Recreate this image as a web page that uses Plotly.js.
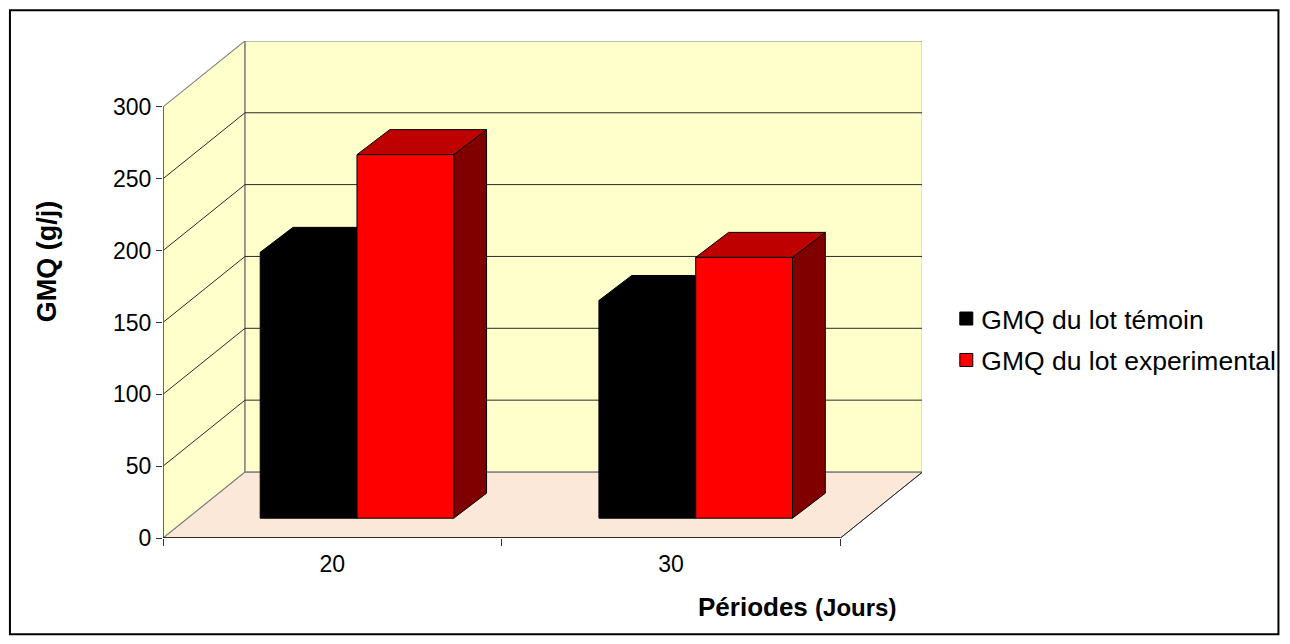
<!DOCTYPE html>
<html><head><meta charset="utf-8">
<script src="https://cdn.plot.ly/plotly-3.0.1.min.js"></script>
<style>html,body{margin:0;padding:0;background:#fff}#chart{width:1290px;height:644px}</style>
</head><body><div id="chart"></div>
<script>
// Data
const categories = ['20', '30'];
const seriesNames = ['GMQ du lot témoin', 'GMQ du lot experimental'];
const temoin = [185, 151.5];
const experimental = [253, 181.5];
const yTicks = [0, 50, 100, 150, 200, 250, 300];

// Oblique-projection set-up (in data units of the axes)
const W = 1290, H = 644;
const L = 163, R = 921.7, T = 40.7, B = 537.7;
const pxPerCat = 338.6, pxPerVal = 1.437;
const dX = 82 / pxPerCat, dY = 66 / pxPerVal;
const nCat = categories.length, yMax = 300;
const barW = 1 / 3.5, barStart = 0.75 / 3.5;
const d0 = 0.3, d1 = 0.7;
const barDepthY = 25 / pxPerVal;

const px = v => (v - L) / (R - L);
const py = v => (B - v) / (B - T);

const traces = [];
function poly(xs, ys, fill, color, width) {
  traces.push({x: xs, y: ys, type: 'scatter', mode: 'lines', fill: 'toself', fillcolor: fill,
    line: {color: color, width: width}, hoverinfo: 'skip', showlegend: false, cliponaxis: false});
}
function line(xs, ys, color, width) {
  traces.push({x: xs, y: ys, type: 'scatter', mode: 'lines', line: {color: color, width: width},
    hoverinfo: 'skip', showlegend: false, cliponaxis: false, connectgaps: false});
}
const X = nCat;
// floor and walls
poly([0, X, X + dX, dX, 0], [0, 0, dY, dY, 0], '#FBE8D9', '#808080', 1);
poly([0, dX, dX, 0, 0], [0, dY, yMax + dY, yMax, 0], '#FFFFCC', '#808080', 1.2);
poly([dX, X + dX, X + dX, dX, dX], [dY, dY, yMax + dY, yMax + dY, dY], '#FFFFCC', '#808080', 1.4);
// grid lines
const gx = [], gy = [];
yTicks.slice(1, -1).forEach(v => {
  gx.push(0, dX, X + dX, null);
  gy.push(v, v + dY, v + dY, null);
});
line(gx, gy, '#2a2a2a', 1);
line([X, X + dX], [0, dY], '#222', 1);
line([0, 0], [0, yMax], '#444', 1.4);
line([0, X], [0, 0], '#000', 1.4);

// 3-D bars
function bar(cat, k, val, front, top, side, edge) {
  const x0 = cat + barStart + k * barW + d0 * dX, x1 = x0 + barW;
  const y0 = d0 * dY, y1 = val + d0 * dY;
  const ox = (d1 - d0) * dX, oy = barDepthY;
  poly([x1, x1 + ox, x1 + ox, x1, x1], [y0, y0 + oy, y1 + oy, y1, y0], side, edge, 1);
  poly([x0, x1, x1 + ox, x0 + ox, x0], [y1, y1, y1 + oy, y1 + oy, y1], top, edge, 1);
  poly([x0, x1, x1, x0, x0], [y0, y0, y1, y1, y0], front, edge, 1);
}
categories.forEach((c, i) => {
  bar(i, 0, temoin[i], '#000000', '#000000', '#000000', '#000000');
  bar(i, 1, experimental[i], '#FF0000', '#BF0000', '#800000', '#000000');
});

// legend entries
[['#000000', 0], ['#FF0000', 1]].forEach(([col, i]) => {
  traces.push({x: [null], y: [null], type: 'scatter', mode: 'markers', name: seriesNames[i],
    legendgroup: 'g' + i, marker: {symbol: 'square', size: 13, color: col, line: {color: '#000', width: 1}},
    hoverinfo: 'skip', showlegend: true});
});

const layout = {
  width: W, height: H,
  margin: {l: L, r: W - R, t: T, b: H - B, pad: 0, autoexpand: false},
  paper_bgcolor: '#fff', plot_bgcolor: 'rgba(0,0,0,0)',
  font: {family: '"Liberation Sans", Arial, sans-serif', color: '#000', size: 23},
  showlegend: true,
  legend: {x: px(941), xanchor: 'left', y: py(339), yanchor: 'middle', tracegroupgap: 4,
    font: {size: 26.5}, bgcolor: 'rgba(0,0,0,0)', borderwidth: 0, traceorder: 'grouped'},
  xaxis: {range: [0, (R - L) / pxPerCat], tickmode: 'array', tickvals: [0.5, 1.5], ticktext: categories,
    ticks: '', ticklen: 0, showgrid: false, zeroline: false, showline: false, ticklabelstandoff: 10,
    minor: {tickmode: 'array', tickvals: [0, 1, 2], ticks: 'outside', ticklen: 7, tickcolor: '#333', tickwidth: 1, showgrid: false},
    tickfont: {size: 23}, fixedrange: true},
  yaxis: {range: [0, (B - T) / pxPerVal], tickmode: 'array', tickvals: yTicks, ticktext: yTicks.map(String),
    ticks: 'outside', ticklen: 6, tickcolor: '#333', tickwidth: 1, showgrid: false, zeroline: false, showline: false,
    tickfont: {size: 23}, fixedrange: true},
  annotations: [
    {xref: 'paper', yref: 'paper', x: px(47), y: py(261), text: '<b>GMQ (g/j)</b>', textangle: -90,
      showarrow: false, font: {size: 27}, xanchor: 'center', yanchor: 'middle'},
    {xref: 'paper', yref: 'paper', x: px(797), y: py(607),
      text: '<b>Périodes</b> <b style="font-size:24px">(Jours)</b>', showarrow: false, font: {size: 26},
      xanchor: 'center', yanchor: 'middle'}
  ],
  shapes: [{type: 'rect', xref: 'paper', yref: 'paper', x0: px(10), x1: px(1278), y0: py(10), y1: py(634),
    line: {color: '#000', width: 2}, fillcolor: 'rgba(0,0,0,0)', layer: 'above'}]
};
Plotly.newPlot('chart', traces, layout, {displayModeBar: false, staticPlot: true}).then(() => {
  document.querySelectorAll('.legend .legendpoints').forEach(g => g.setAttribute('transform', 'translate(5,0)'));
});
</script></body></html>
